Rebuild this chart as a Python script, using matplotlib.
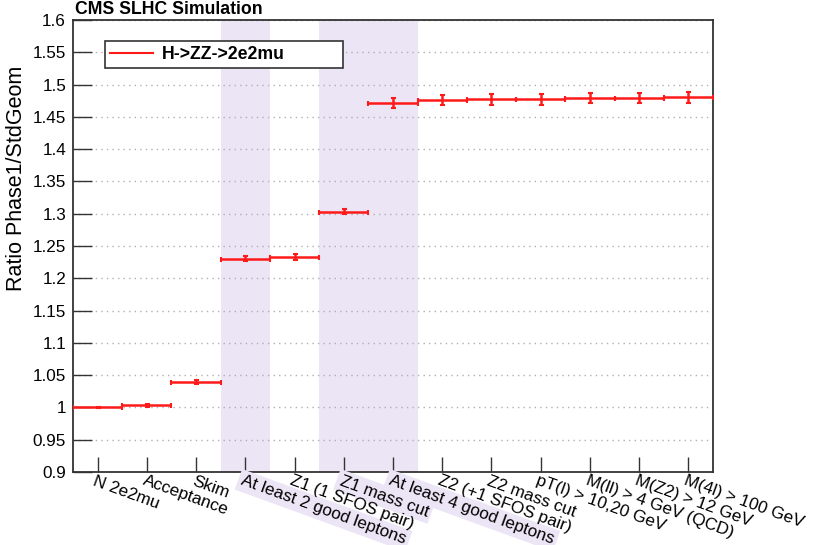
import matplotlib
matplotlib.use("Agg")
import matplotlib.pyplot as plt
import matplotlib.transforms as mtransforms
from matplotlib.lines import Line2D

plt.rcParams['font.family'] = ['Liberation Sans', 'DejaVu Sans']

categories = ["N 2e2mu", "Acceptance", "Skim", "At least 2 good leptons",
              "Z1 (1 SFOS pair)", "Z1 mass cut", "At least 4 good leptons",
              "Z2 (+1 SFOS pair)", "Z2 mass cut", "pT(l) > 10,20 GeV",
              "M(ll) > 4 GeV (QCD)", "M(Z2) > 12 GeV", "M(4l) > 100 GeV"]
ratio = [1.000, 1.003, 1.040, 1.230, 1.233, 1.303, 1.471,
         1.476, 1.477, 1.477, 1.479, 1.479, 1.480]
ratio_err = [0.0005, 0.003, 0.003, 0.004, 0.004, 0.004, 0.008,
             0.008, 0.008, 0.008, 0.008, 0.008, 0.008]
shaded = ["At least 2 good leptons", "Z1 mass cut", "At least 4 good leptons"]
series_name = "H->ZZ->2e2mu"
yticks = [0.9, 0.95, 1.0, 1.05, 1.1, 1.15, 1.2, 1.25, 1.3, 1.35, 1.4,
          1.45, 1.5, 1.55, 1.6]
ytick_labels = ["0.9", "0.95", "1", "1.05", "1.1", "1.15", "1.2", "1.25",
                "1.3", "1.35", "1.4", "1.45", "1.5", "1.55", "1.6"]

shade_col = '#ebe5f5'
red = '#ff1a1a'

fig = plt.figure(figsize=(8.15, 5.45), dpi=100)
ax = fig.add_axes([73/815, 1-472/545, 640/815, 452/545])

x = list(range(1, len(categories) + 1))
ax.set_xlim(0.5, len(categories) + 0.5)
ax.set_ylim(0.9, 1.6)

# shaded bins
for i, c in enumerate(categories):
    if c in shaded:
        ax.axvspan(x[i] - 0.5, x[i] + 0.5, color=shade_col, lw=0, zorder=0)

ax.set_yticks(yticks)
ax.set_yticklabels(ytick_labels)
ax.yaxis.grid(True, color='#b0b0b0', linestyle=(0, (1, 3)), lw=1, zorder=1)
ax.set_xticks(x)
ax.set_xticklabels([])
ax.tick_params(axis='y', direction='in', length=14, width=1, color='#333333',
               labelsize=12.3, pad=5)
ax.tick_params(axis='x', direction='in', length=11, width=1, color='#333333')
for s in ax.spines.values():
    s.set_linewidth(1.3)
    s.set_color('#333333')

ax.errorbar(x, ratio, xerr=0.5, yerr=ratio_err, fmt='none', ecolor=red,
            elinewidth=1.8, capsize=1.8, capthick=1.5, zorder=3)

# rotated x labels: shaded boxes first, then all texts on top
trans = mtransforms.blended_transform_factory(ax.transData, ax.transAxes)
trans = mtransforms.offset_copy(trans, fig=fig, x=-0.8, y=-1.0, units='points')
for i, c in enumerate(categories):
    if c in shaded:
        ax.text(x[i], 0.0, c, transform=trans, rotation=-20,
                rotation_mode='anchor', ha='left', va='top', fontsize=12.3,
                color='none', clip_on=False, zorder=5,
                bbox=dict(boxstyle='square,pad=0.2', facecolor=shade_col,
                          edgecolor='none'))
for i, c in enumerate(categories):
    ax.text(x[i], 0.0, c, transform=trans, rotation=-20,
            rotation_mode='anchor', ha='left', va='top', fontsize=12.3,
            clip_on=False, zorder=6)

ax.set_ylabel("Ratio Phase1/StdGeom", fontsize=15.5)
ax.yaxis.set_label_coords(-0.072, 0.65)

fig.text(75/815, 1-10/545, "CMS SLHC Simulation", fontsize=12.7,
         fontweight='bold', ha='left', va='center')

handle = Line2D([], [], color=red, lw=1.5)
leg = ax.legend([handle], [series_name], loc='center left',
                bbox_to_anchor=(0.05, 0.894, 0.372, 0.06), mode='expand',
                borderaxespad=0, fancybox=False, framealpha=1,
                edgecolor='#333333', prop={'weight': 'bold', 'size': 12.7},
                handlelength=2.4, handletextpad=0.5, borderpad=0.3)
leg.get_frame().set_linewidth(1.2)

fig.savefig("out.png", dpi=100)
